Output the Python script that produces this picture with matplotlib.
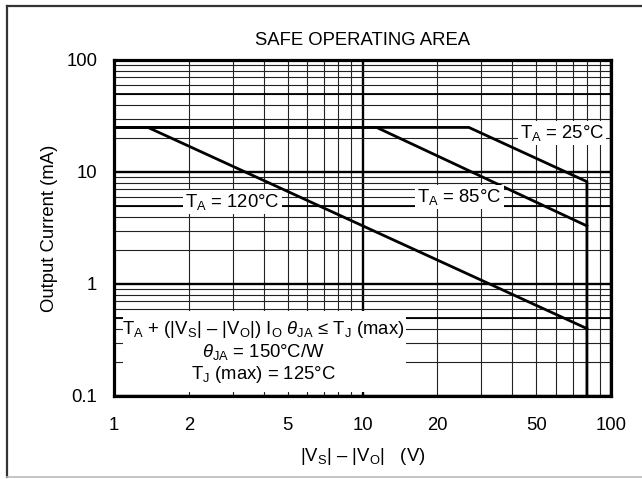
import matplotlib
matplotlib.use('Agg')
import matplotlib.pyplot as plt
from matplotlib.ticker import LogLocator, FuncFormatter, NullFormatter
from matplotlib.patches import Rectangle
from matplotlib.lines import Line2D

plt.rcParams['font.family'] = ['Liberation Sans', 'DejaVu Sans']
plt.rcParams['mathtext.fontset'] = 'custom'
plt.rcParams['mathtext.rm'] = 'Liberation Sans'
plt.rcParams['mathtext.it'] = 'Liberation Sans:italic'
plt.rcParams['mathtext.default'] = 'regular'

# curves: voltage differential (V) vs output current (mA)
v_25 = [1, 26.8, 80, 80]
i_25 = [25, 25, 8.2, 0.1]
v_85 = [1, 11.4, 80]
i_85 = [25, 25, 3.3]
v_120 = [1, 1.37, 80]
i_120 = [25, 25, 0.4]

x_ticks = [1, 2, 5, 10, 20, 50, 100]
y_ticks = [0.1, 1, 10, 100]

FS = 13.3

fig = plt.figure(figsize=(6.42, 4.79), dpi=100)
ax = fig.add_axes([114 / 642, 83 / 479, 497 / 642, 336 / 479])
ax.set_xscale('log')
ax.set_yscale('log')
ax.set_xlim(1, 100)
ax.set_ylim(0.1, 100)

# grid
ax.xaxis.set_major_locator(LogLocator(base=10))
ax.xaxis.set_minor_locator(LogLocator(base=10, subs=range(2, 10)))
ax.yaxis.set_major_locator(LogLocator(base=10))
ax.yaxis.set_minor_locator(LogLocator(base=10, subs=range(2, 10)))
ax.grid(which='major', color='black', lw=1.7)
ax.grid(which='minor', color='#222222', lw=0.8)
for yv in [0.5, 5, 50]:
    ax.axhline(yv, color='black', lw=1.3, zorder=0.9)
ax.set_axisbelow(True)

def fmt(v, pos):
    if v in x_ticks:
        return '%g' % v
    return ''

ax.xaxis.set_major_formatter(FuncFormatter(fmt))
ax.xaxis.set_minor_formatter(FuncFormatter(fmt))
ax.yaxis.set_major_formatter(FuncFormatter(lambda v, p: '%g' % v if v in y_ticks else ''))
ax.yaxis.set_minor_formatter(NullFormatter())
ax.tick_params(which='both', length=0, labelsize=FS)
ax.tick_params(axis='x', which='both', pad=15)
ax.tick_params(axis='y', which='both', pad=12)

for s in ax.spines.values():
    s.set_linewidth(2.3)
    s.set_zorder(5)

# curves
for vx, iy in [(v_25, i_25), (v_85, i_85), (v_120, i_120)]:
    ax.plot(vx, iy, color='black', lw=2.0, zorder=3, solid_joinstyle='miter')

lbl_box = dict(facecolor='white', edgecolor='none', pad=1.5)
ax.text(3.0, 4.9, r'T$_A$ = 120°C', fontsize=FS, ha='center', va='baseline', bbox=lbl_box, zorder=4)
ax.text(24.6, 5.36, r'T$_A$ = 85°C', fontsize=FS, ha='center', va='baseline', bbox=lbl_box, zorder=4)
ax.text(63.5, 20.0, r'T$_A$ = 25°C', fontsize=FS, ha='center', va='baseline', bbox=lbl_box, zorder=4)

# condition box
ax.add_patch(Rectangle((0.018, 0.012), 0.57, 0.24, transform=ax.transAxes,
                       facecolor='white', edgecolor='none', zorder=2))
ax.text(4.0, 0.358, r'T$_A$ + (|V$_S$| – |V$_O$|) I$_O$ $\mathit{\theta}_{JA}$ ≤ T$_J$ (max)',
        fontsize=FS, ha='center', va='baseline', zorder=4)
ax.text(4.0, 0.223, r'$\mathit{\theta}_{JA}$ = 150°C/W', fontsize=FS, ha='center', va='baseline', zorder=4)
ax.text(4.0, 0.142, r'T$_J$ (max) = 125°C', fontsize=FS, ha='center', va='baseline', zorder=4)

ax.set_title('SAFE OPERATING AREA', fontsize=FS, pad=11)
ax.set_ylabel('Output Current (mA)', fontsize=FS, labelpad=6)
ax.set_xlabel(r'|V$_S$| – |V$_O$|   (V)', fontsize=FS, labelpad=9)

# figure frame
fig.add_artist(Line2D([7 / 642, 1.0], [1 - 6 / 479, 1 - 6 / 479], transform=fig.transFigure, color='#333333', lw=1.6))
fig.add_artist(Line2D([7 / 642, 7 / 642], [2 / 479, 1 - 6 / 479], transform=fig.transFigure, color='#333333', lw=1.6))
fig.add_artist(Line2D([7 / 642, 1.0], [2 / 479, 2 / 479], transform=fig.transFigure, color='#bbbbbb', lw=1.2))

fig.savefig('out.png', dpi=100)
